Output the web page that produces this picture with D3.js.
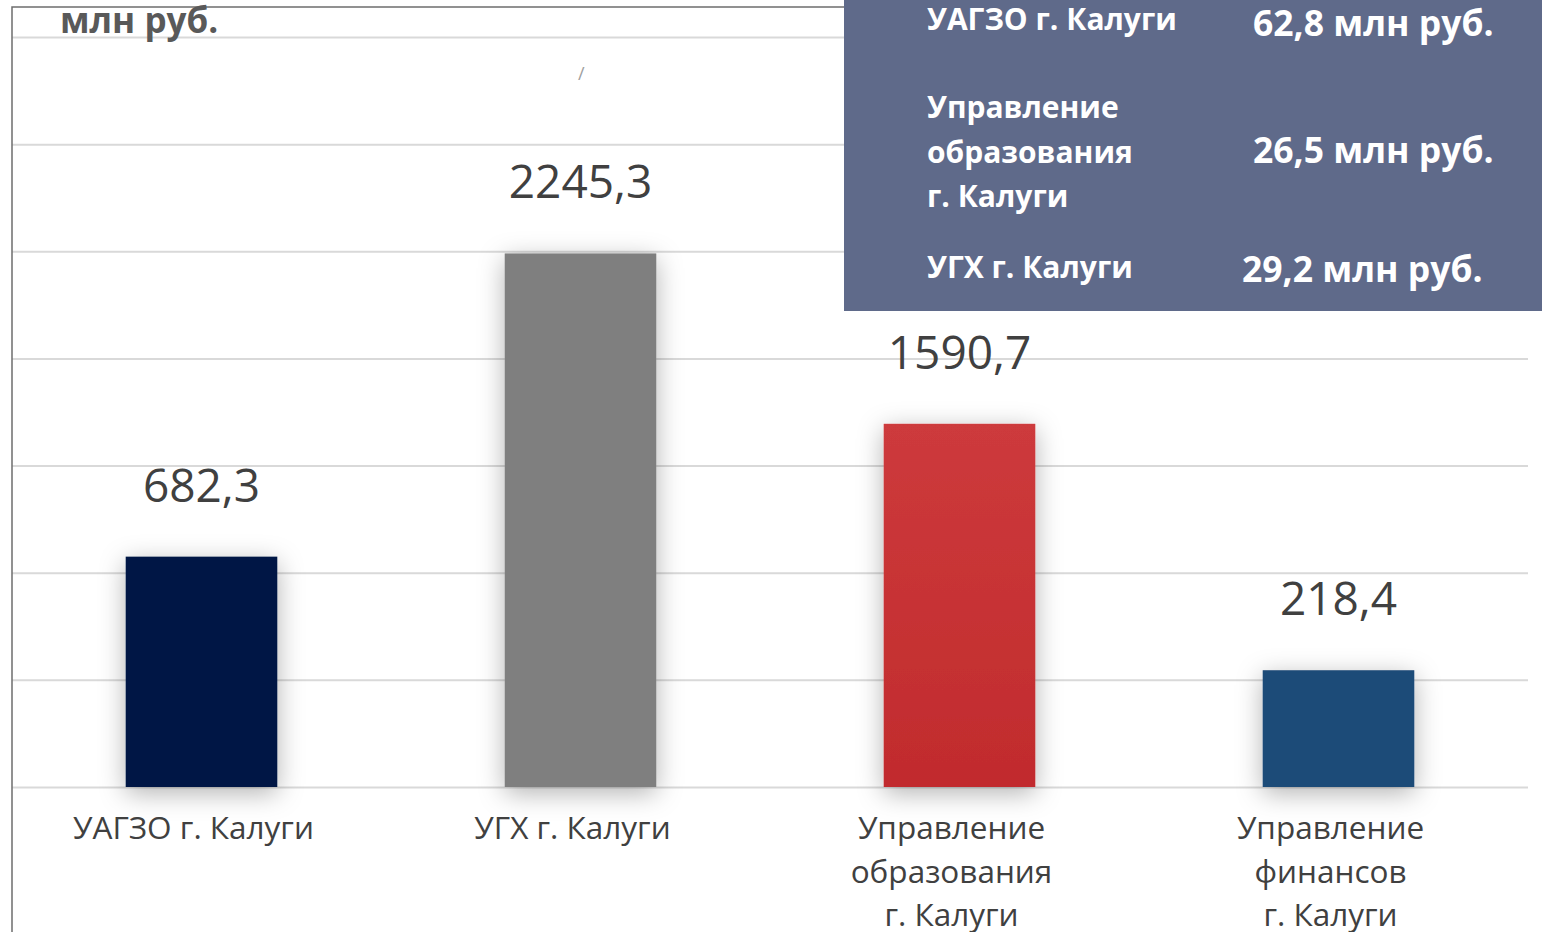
<!DOCTYPE html>
<html>
<head>
<meta charset="utf-8">
<script src="https://cdn.jsdelivr.net/npm/d3@7"></script>
<style>
  html, body { margin: 0; padding: 0; background: #fff; }
  svg { display: block; font-family: "Open Sans", sans-serif; }
</style>
</head>
<body>
<div id="chart"></div>
<script>
// categories, one per bar (lines of the axis label)
const categories = [
  ["УАГЗО г. Калуги"],
  ["УГХ г. Калуги"],
  ["Управление", "образования", "г. Калуги"],
  ["Управление", "финансов", "г. Калуги"]
];
// labels written above the bars, млн руб.
const valueLabels = ["682,3", "2245,3", "1590,7", "218,4"];
// bar heights as drawn in the picture, in gridline units
const barHeights = [2.15, 4.98, 3.39, 1.09];
const barColours = ["#011845", "#7f7f7f", "url(#redGrad)", "#1f4b78"];
const gridTicks = [0, 1, 2, 3, 4, 5, 6, 7];

// inset box
const boxNames = [["УАГЗО г. Калуги"], ["Управление", "образования", "г. Калуги"], ["УГХ г. Калуги"]];
const boxValues = ["62,8 млн руб.", "26,5 млн руб.", "29,2 млн руб."];

const width = 1542;
const height = 932;
const margin = {top: 37, bottom: 145, left: 12, right: 14};

const svg = d3.select("#chart").append("svg")
  .attr("width", width)
  .attr("height", height)
  .attr("viewBox", [0, 0, width, height]);

const defs = svg.append("defs");
const shadow = defs.append("filter").attr("id", "glow")
  .attr("x", "-50%").attr("y", "-50%").attr("width", "200%").attr("height", "200%");
shadow.append("feDropShadow")
  .attr("dx", 0).attr("dy", 6)
  .attr("stdDeviation", 13)
  .attr("flood-color", "#000")
  .attr("flood-opacity", 0.3);

const grad = defs.append("linearGradient").attr("id", "redGrad")
  .attr("x1", 0).attr("y1", 0).attr("x2", 0).attr("y2", 1);
grad.append("stop").attr("offset", "0%").attr("stop-color", "#cd3a3c");
grad.append("stop").attr("offset", "100%").attr("stop-color", "#c12b2d");

const x = d3.scaleBand()
  .domain(d3.range(categories.length))
  .range([margin.left, width - margin.right])
  .paddingInner(0.6)
  .paddingOuter(0.3);

const y = d3.scaleLinear()
  .domain([0, 7])
  .range([height - margin.bottom, margin.top]);

// gridlines
svg.append("g")
  .attr("transform", `translate(${margin.left},0)`)
  .call(d3.axisLeft(y).tickValues(gridTicks).tickSize(-(width - margin.left - margin.right)).tickFormat(""))
  .call(g => g.select(".domain").remove())
  .call(g => g.selectAll(".tick line").attr("stroke", "#d9d9d9").attr("stroke-width", 2));

// frame
svg.append("path")
  .attr("d", `M${margin.left},${height} V7 H850`)
  .attr("fill", "none")
  .attr("stroke", "#6d6d6d")
  .attr("stroke-width", 1.5);

// bars
svg.append("g")
  .selectAll("rect")
  .data(barHeights)
  .join("rect")
    .attr("x", (d, i) => x(i))
    .attr("y", d => y(d))
    .attr("width", x.bandwidth())
    .attr("height", d => y(0) - y(d))
    .attr("fill", (d, i) => barColours[i])
    .attr("filter", "url(#glow)");

// value labels
svg.append("g")
  .selectAll("text")
  .data(barHeights)
  .join("text")
    .attr("x", (d, i) => x(i) + x.bandwidth() / 2)
    .attr("y", d => y(d) - 55)
    .attr("text-anchor", "middle")
    .attr("font-size", 46)
    .attr("fill", "#404040")
    .text((d, i) => valueLabels[i]);

// category labels
const cat = svg.append("g")
  .selectAll("text")
  .data(categories)
  .join("text")
    .attr("x", (d, i) => x(i) + x.bandwidth() / 2 - 8)
    .attr("y", 839)
    .attr("text-anchor", "middle")
    .attr("font-size", 31.5)
    .attr("fill", "#404040");
cat.selectAll("tspan")
  .data(d => d)
  .join("tspan")
    .attr("x", function() { return d3.select(this.parentNode).attr("x"); })
    .attr("dy", (d, i) => i === 0 ? 0 : 43.5)
    .text(d => d);

// unit title
svg.append("text")
  .attr("x", 60)
  .attr("y", 33)
  .attr("font-size", 35)
  .attr("font-weight", "bold")
  .attr("fill", "#595959")
  .text("млн руб.");

// stray mark
svg.append("text")
  .attr("x", 578)
  .attr("y", 80)
  .attr("font-size", 18)
  .attr("fill", "#a0a0a0")
  .text("/");

// inset box
const box = svg.append("g");
box.append("rect")
  .attr("x", 844).attr("y", 0)
  .attr("width", width - 844).attr("height", 311)
  .attr("fill", "#5f6a8a");

const nameY = [30, 118, 278];
const valueY = [36, 163, 282];
const valueX = [1253, 1253, 1242];

box.selectAll("text.name")
  .data(boxNames)
  .join("text")
    .attr("class", "name")
    .attr("x", 927)
    .attr("y", (d, i) => nameY[i])
    .attr("font-size", 30)
    .attr("font-weight", "bold")
    .attr("fill", "#fff")
  .selectAll("tspan")
  .data(d => d)
  .join("tspan")
    .attr("x", 927)
    .attr("dy", (d, i) => i === 0 ? 0 : 44.5)
    .text(d => d);

box.selectAll("text.val")
  .data(boxValues)
  .join("text")
    .attr("class", "val")
    .attr("x", (d, i) => valueX[i])
    .attr("y", (d, i) => valueY[i])
    .attr("font-size", 35.5)
    .attr("font-weight", "bold")
    .attr("fill", "#fff")
    .text(d => d);
</script>
</body>
</html>
